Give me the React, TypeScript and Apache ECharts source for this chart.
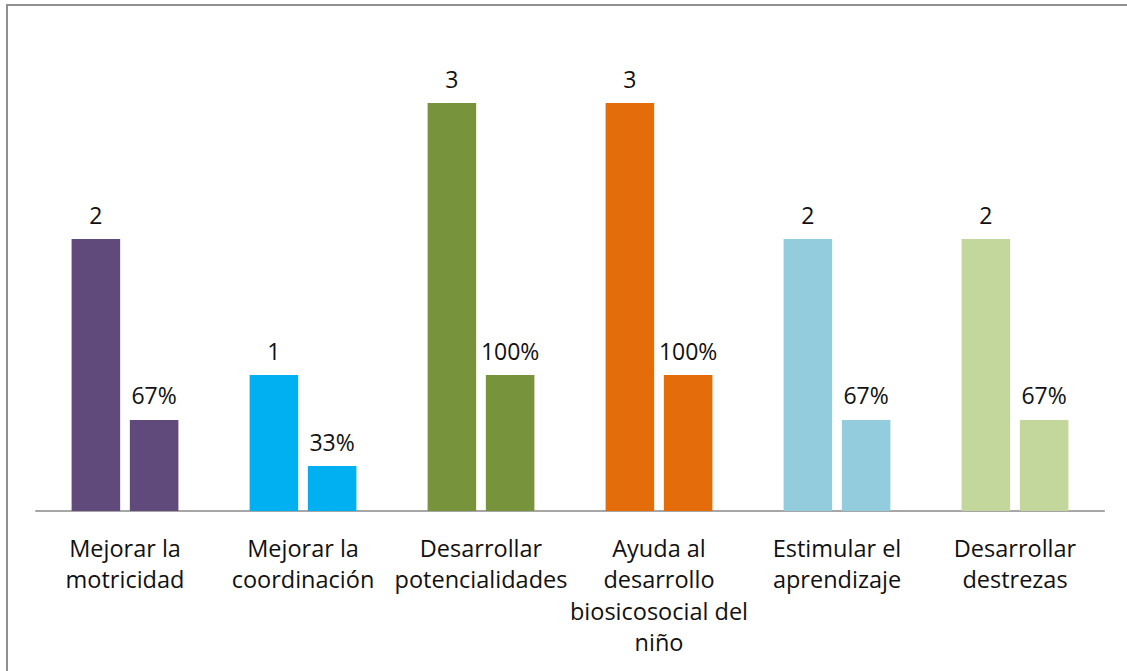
import React, { useEffect, useRef } from "react";
import * as echarts from "echarts";

const categories = [
  "Mejorar la\nmotricidad",
  "Mejorar la\ncoordinación",
  "Desarrollar\npotencialidades",
  "Ayuda al\ndesarrollo\nbiosicosocial del\nniño",
  "Estimular el\naprendizaje",
  "Desarrollar\ndestrezas",
];
const counts = [2, 1, 3, 3, 2, 2];
const percents = [67, 33, 100, 100, 67, 67];
const colors = ["#604A7B", "#00B0F0", "#77933C", "#E46C0A", "#93CDDD", "#C3D69B"];

const FONT = "Open Sans";

export default function App() {
  const ref = useRef<HTMLDivElement>(null);
  useEffect(() => {
    if (!ref.current) return;
    const chart = echarts.init(ref.current, null, { renderer: "svg" });
    const labelStyle = {
      show: true,
      position: "top" as const,
      distance: 13,
      color: "#111",
      fontFamily: FONT,
      fontSize: 23,
    };
    chart.setOption({
      animation: false,
      backgroundColor: "#fff",
      grid: { left: 36, right: 23, top: 35, bottom: 160 },
      graphic: [
        {
          type: "rect",
          shape: { x: 7, y: 5, width: 1300, height: 900 },
          style: { fill: "none", stroke: "#8f8f8f", lineWidth: 2 },
          silent: true,
        },
      ],
      xAxis: {
        type: "category",
        data: categories,
        axisLine: { lineStyle: { color: "#a6a6a6", width: 2 } },
        axisTick: { show: false },
        axisLabel: {
          color: "#111",
          fontFamily: FONT,
          fontSize: 23.5,
          lineHeight: 31.5,
          margin: 21,
          interval: 0,
        },
      },
      yAxis: {
        type: "value",
        min: 0,
        max: 3.5,
        show: false,
        splitLine: { show: false },
      },
      series: [
        {
          type: "bar",
          data: counts,
          barCategoryGap: "40%",
          barGap: "20%",
          itemStyle: { color: (p: any) => colors[p.dataIndex] },
          label: { ...labelStyle, formatter: (p: any) => `${counts[p.dataIndex]}` },
        },
        {
          type: "bar",
          data: percents.map((v) => v / 100),
          itemStyle: { color: (p: any) => colors[p.dataIndex] },
          label: { ...labelStyle, formatter: (p: any) => `${percents[p.dataIndex]}%` },
        },
      ],
    });
    return () => chart.dispose();
  }, []);
  return (
    <div
      ref={ref}
      style={{ position: "fixed", left: 0, top: 0, width: 1127, height: 671 }}
    />
  );
}
